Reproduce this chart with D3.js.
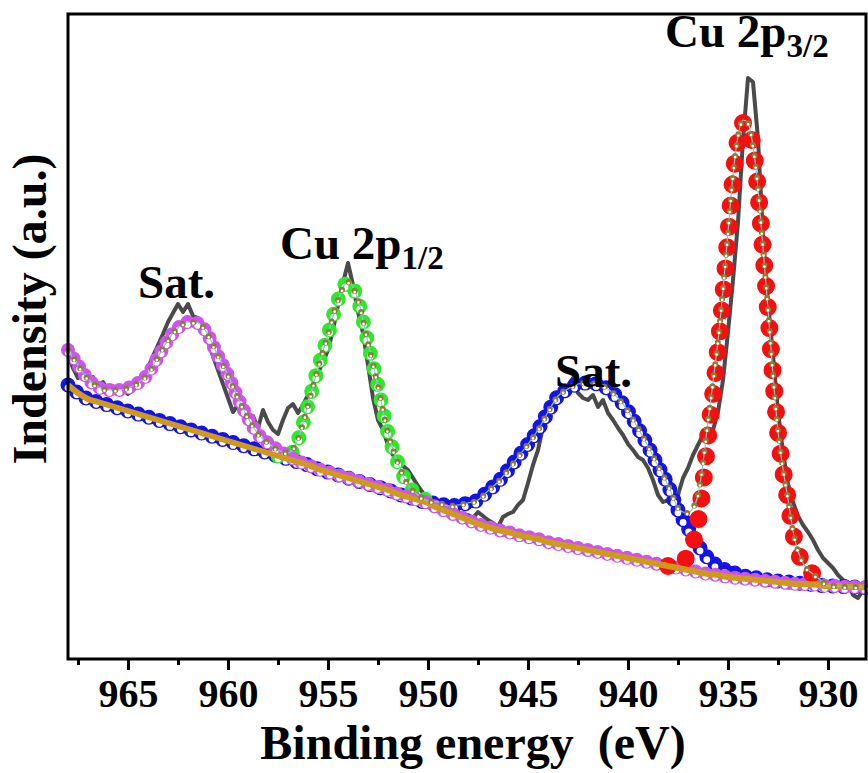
<!DOCTYPE html>
<meta charset="utf-8">
<style>
body { margin: 0; background: white; }
svg { font-family: 'Times New Roman', 'Liberation Serif', serif; }
.tick text { font-family: 'Times New Roman', 'Liberation Serif', serif; font-size: 40px; font-weight: bold; }
.tick line { stroke: black; stroke-width: 3px; }
text.title { font-size: 48px; font-weight: bold; }
text.peak { font-size: 47px; font-weight: bold; }
</style>
<body>
<script src="https://d3js.org/d3.v7.min.js"></script>
<script>

// energy grids (eV) of the scan and of the fitted curves
const eHalf = d3.range(968, 927.9, -0.5);      // 81 pts
const eQuarter = d3.range(968, 927.9, -0.25);  // 161 pts
const eRed = d3.range(938, 929.9, -0.25);      // Cu 2p3/2 window
const eGreen = d3.range(957.5, 949.4, -0.5);   // Cu 2p1/2 window
const eEnv = d3.range(968, 938.4, -0.5)
  .concat(d3.range(938.25, 929.9, -0.25))
  .concat(d3.range(929.5, 927.9, -0.5));

// measured spectrum (a.u.), on eQuarter
const rawData = [
  304,291,281,284,278,282,273,277,269,273,
  267,270,265,269,273,281,291,303,314,325,
  337,346,355,347,355,343,341,329,318,303,
  289,275,261,247,254,251,241,243,231,249,
  237,229,225,239,251,255,246,254,264,274,
  286,297,309,329,354,376,396,374,347,326,
  294,261,239,229,214,204,196,193,189,181,
  173,166,159,154,152,147,149,144,147,141,
  144,141,147,143,139,136,132,142,145,147,
  154,159,176,194,209,232,247,256,264,269,
  273,281,266,261,259,264,252,259,246,239,
  231,224,215,209,202,199,191,179,164,157,
  159,156,164,181,191,204,214,224,219,229,
  247,279,327,379,437,519,581,577,520,423,
  356,304,247,207,175,157,143,134,127,119,
  109,101,96,91,84,79,77,64,61,69,
  65
];

// Shirley background, on eHalf
const background = [
  274,266,260,257,254,251,248,245,242,239,
  236,233,230,227,224,221,218,215,212,209,
  206,203,200,197,194,190,187,184,181,178,
  175,172,169,165,162,159,156,151,147,143,
  139,135,132,129,127,124,122,120,117,115,
  113,111,109,107,105,103,101,99,97,95,
  93,91,89,87,85,84,82,81,80,79,
  78,77,76,75,75,74,73,73,72,72,
  71
];

// satellite near 962 eV, on eHalf
const satHigh = [
  309,294,280,272,269,269,271,276,285,302,
  319,331,337,336,324,303,284,261,241,225,
  216,209,203,198,194,190,187,184,181,178,
  175,172,169,165,162,159,156,151,147,143,
  139,135,132,129,127,124,122,120,117,115,
  113,111,109,107,105,103,101,99,97,95,
  93,91,89,87,85,84,82,81,80,79,
  78,77,76,75,75,74,73,73,72,72,
  71
];

// satellite near 942 eV, on eHalf
const satLow = [
  274,266,260,257,254,251,248,245,242,239,
  236,233,230,227,224,221,218,215,212,209,
  206,203,200,197,194,190,187,184,181,178,
  175,172,169,165,162,159,156,156,153,154,
  156,159,168,177,189,202,215,229,247,263,
  270,275,276,275,270,261,248,231,213,193,
  174,149,131,114,101,93,88,85,82,81,
  79,78,77,76,75,74,73,73,72,72,
  71
];

// Cu 2p1/2, on eGreen
const cu2p12 = [203,203,219,254,291,324,359,377,359,316,273,226,196,174,164,158,152];

// Cu 2p3/2, on eRed
const cu2p32 = [
  93,92,93,97,104,116,137,174,222,264,
  309,361,421,479,519,536,534,511,469,409,
  349,283,227,189,159,127,107,96,89,85,
  81,77,73
];

// fit envelope, on eEnv
const envelope = [
  309,294,280,272,269,269,271,276,285,302,
  319,331,337,336,324,303,284,261,241,225,
  216,209,206,220,254,291,324,359,377,359,
  316,273,226,196,174,164,158,157,153,154,
  156,159,168,177,189,202,215,229,247,263,
  270,275,276,275,270,261,248,231,213,193,
  184,174,162,151,147,146,151,164,196,238,
  277,318,369,427,484,523,539,536,513,471,
  411,350,284,228,190,160,128,108,96,89,
  85,81,77,73,73,72,72,71
];

const majorTicks = [965, 960, 955, 950, 945, 940, 935, 930];
const minorTicks = [967.5, 962.5, 957.5, 952.5, 947.5, 942.5, 937.5, 932.5];

const labelText = ['Sat.', 'Cu 2p', 'Sat.', 'Cu 2p'];
const labelSub = ['', '1/2', '', '3/2'];
const labelEnergy = [964.5, 957.4, 943.65, 938.15];
const labelLevel = [361, 400, 272, 612];

const width = 868, height = 773;
const margin = {top: 14, right: 2, bottom: 114, left: 68};

var svg = d3.select('body').append('svg')
  .attr('width', width)
  .attr('height', height);

var x = d3.scaleLinear()
  .domain([968, 928.1])
  .range([margin.left, width - margin.right]);

var y = d3.scaleLinear()
  .domain([0, 645])
  .range([height - margin.bottom, margin.top]);

function lineOf(energies) {
  return d3.line()
    .x(function(d, i) { return x(energies[i]); })
    .y(function(d) { return y(d); })
    .curve(d3.curveMonotoneX);
}

// Origin-like "half up" symbols drawn along the curve with a round dash pattern
function symbols(energies, values, color, size, gap, half) {
  var d = lineOf(energies)(values);
  svg.append('path')
    .attr('d', d)
    .attr('fill', 'none')
    .attr('stroke', color)
    .attr('stroke-width', size)
    .attr('stroke-linecap', 'round')
    .attr('stroke-dasharray', '0 ' + gap);
  if (half) {
    svg.append('path')
      .attr('d', d)
      .attr('transform', 'translate(0,' + (size * 0.19) + ')')
      .attr('fill', 'none')
      .attr('stroke', 'white')
      .attr('stroke-width', size * 0.45)
      .attr('stroke-linecap', 'round')
      .attr('stroke-dasharray', '0 ' + gap);
  }
}

// measured data
svg.append('path')
  .datum(rawData)
  .attr('fill', 'none')
  .attr('stroke', '#4a4a4a')
  .attr('stroke-width', 4)
  .attr('stroke-linejoin', 'round')
  .attr('d', d3.line()
    .x(function(d, i) { return x(eQuarter[i]); })
    .y(function(d) { return y(d); }));

// fitted components
symbols(eHalf, satLow, '#1414e6', 15, 11, true);
symbols(eGreen, cu2p12, '#2ee82e', 15, 16, true);
symbols(eHalf, satHigh, '#cc55ee', 14, 10, true);
symbols(eRed, cu2p32, '#f41010', 18, 21, false);

// background
svg.append('path')
  .datum(background)
  .attr('fill', 'none')
  .attr('stroke', '#cf9a1c')
  .attr('stroke-width', 6)
  .attr('d', lineOf(eHalf));

// envelope
svg.append('path')
  .datum(envelope)
  .attr('fill', 'none')
  .attr('stroke', '#86cccc')
  .attr('stroke-width', 1.2)
  .attr('d', lineOf(eEnv));
symbols(eEnv, envelope, '#8c7d35', 6, 11, true);

// frame
svg.append('rect')
  .attr('x', x(968))
  .attr('y', margin.top)
  .attr('width', x(928.1) - x(968))
  .attr('height', y(0) - margin.top)
  .attr('fill', 'none')
  .attr('stroke', 'black')
  .attr('stroke-width', 3);

// bottom axis
var xAxis = svg.append('g')
  .attr('transform', 'translate(0,' + y(0) + ')')
  .call(d3.axisBottom(x).tickValues(majorTicks).tickSize(11).tickPadding(9)
    .tickFormat(d3.format('d')));
xAxis.select('.domain').remove();
xAxis.selectAll('text').attr('fill', 'black');

var xMinor = svg.append('g')
  .attr('transform', 'translate(0,' + y(0) + ')')
  .call(d3.axisBottom(x).tickValues(minorTicks).tickSize(6).tickFormat(''));
xMinor.select('.domain').remove();

// axis titles
svg.append('text')
  .attr('class', 'title')
  .attr('x', x(947.75))
  .attr('y', 759)
  .attr('text-anchor', 'middle')
  .style('white-space', 'pre')
  .text('Binding energy  (eV)');

svg.append('text')
  .attr('class', 'title')
  .attr('transform', 'translate(46,' + y(350) + ') rotate(-90)')
  .attr('text-anchor', 'middle')
  .text('Indensity (a.u.)');

// peak labels
labelText.forEach(function(t, i) {
  var lab = svg.append('text')
    .attr('class', 'peak')
    .attr('x', x(labelEnergy[i]))
    .attr('y', y(labelLevel[i]))
    .text(t);
  if (labelSub[i]) {
    lab.append('tspan')
      .attr('dy', 10)
      .style('font-size', '33px')
      .text(labelSub[i]);
  }
});

</script>
</body>
